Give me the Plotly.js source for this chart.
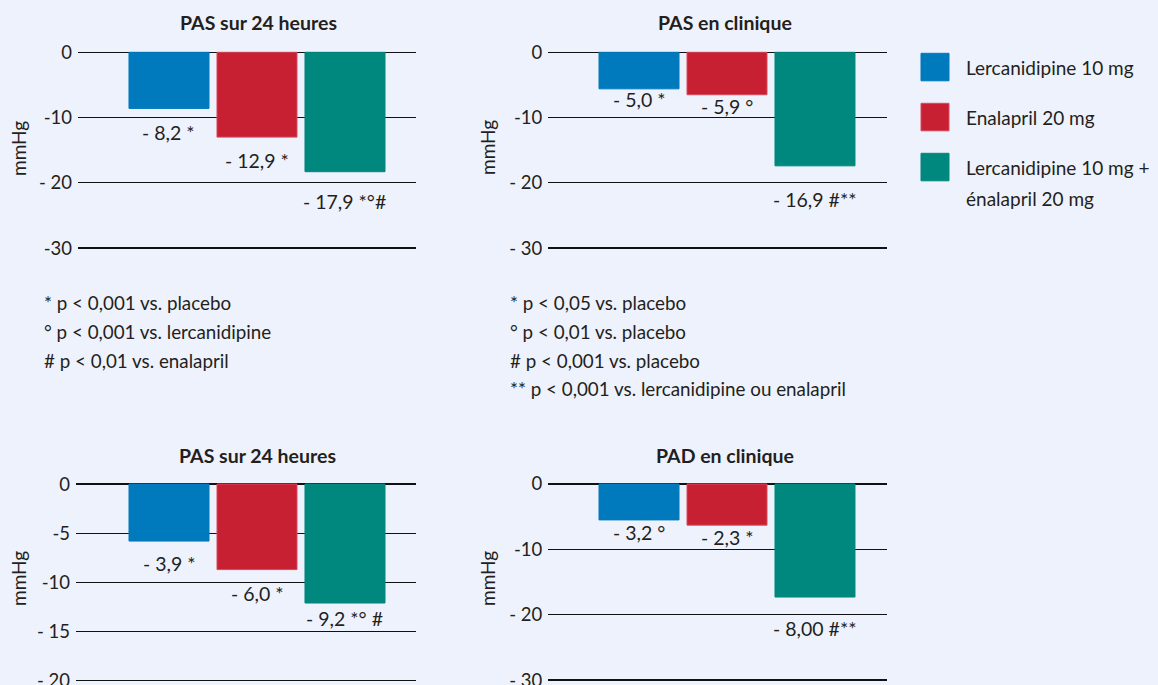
<!DOCTYPE html>
<html>
<head>
<meta charset="utf-8">
<script src="https://cdn.plot.ly/plotly-3.0.1.min.js"></script>
<style>html,body{margin:0;padding:0;background:#eef2fc;}#chart{width:1158px;height:685px;}</style>
</head>
<body>
<div id="chart"></div>
<script>
// ---- DATA ----
const categories = ['Lercanidipine 10 mg', 'Enalapril 20 mg', 'Lercanidipine 10 mg + énalapril 20 mg'];
const legendLines = [['Lercanidipine 10 mg'], ['Enalapril 20 mg'], ['Lercanidipine 10 mg +', 'énalapril 20 mg']];
const panelTitles = ['PAS sur 24 heures', 'PAS en clinique', 'PAS sur 24 heures', 'PAD en clinique'];
const yAxisLabel = 'mmHg';

// bar heights as drawn in the picture (mmHg)
const pas24hBars = [-8.6, -13.0, -18.3];
const pasCliniqueBars = [-5.6, -6.5, -17.4];
const pas24hBarsB = [-5.8, -8.7, -12.1];
const padCliniqueBars = [-5.5, -6.3, -17.3];

// printed value labels
const pas24hLabels = ['- 8,2 *', '- 12,9 *', '- 17,9 *°#'];
const pasCliniqueLabels = ['- 5,0 *', '- 5,9 °', '- 16,9 #**'];
const pas24hLabelsB = ['- 3,9 *', '- 6,0 *', '- 9,2 *° #'];
const padCliniqueLabels = ['- 3,2 °', '- 2,3 *', '- 8,00 #**'];

// tick values / labels
const tickVals30 = [0, -10, -20, -30];
const tickText30a = ['0', '-10', '- 20', '-30'];
const tickText30b = ['0', '-10', '- 20', '- 30'];
const tickVals20 = [0, -5, -10, -15, -20];
const tickText20 = ['0', '-5', '-10', '- 15', '- 20'];

// footnotes
const notesLeft = ['* p < 0,001 vs. placebo', '° p < 0,001 vs. lercanidipine', '# p < 0,01 vs. enalapril'];
const notesRight = ['* p < 0,05 vs. placebo', '° p < 0,01 vs. placebo', '# p < 0,001 vs. placebo', '** p < 0,001 vs. lercanidipine ou enalapril'];

// ---- STYLE / LAYOUT ----
const W = 1158, H = 685;
const colors = ['#0079bd', '#c82033', '#00877e'];
const lineColors = ['#0079bd', '#d8485a', '#00877e'];
const bg = '#eef2fc';
const ink = '#231f20';
const FONT = 'Lato, "Open Sans", sans-serif';
const px = x => x / W;
const py = y => 1 - y / H;

const panels = [
  {bars: pas24hBars, labels: pas24hLabels, tv: tickVals30, tt: tickText30a, xpx: [78, 416], xr: [-1.034, 2.807], yr: [-30.5, 0.5], ypx: [49.04, 251.3], shifts: [-24.3, -23, -29.7], title: [258.5, 23], ytitle: [18, 149]},
  {bars: pasCliniqueBars, labels: pasCliniqueLabels, tv: tickVals30, tt: tickText30b, xpx: [548.3, 886.7], xr: [-1.031, 2.815], yr: [-30.5, 0.5], ypx: [49.04, 251.3], shifts: [-11, -11.3, -33.6], title: [724.5, 23], ytitle: [487, 148]},
  {bars: pas24hBarsB, labels: pas24hLabelsB, tv: tickVals20, tt: tickText20, xpx: [76, 416], xr: [-1.057, 2.807], yr: [-20.2, 0.5], ypx: [479.1, 682.7], shifts: [-22.6, -24, -15.6], title: [257, 455], ytitle: [18, 579]},
  {bars: padCliniqueBars, labels: padCliniqueLabels, tv: tickVals30, tt: tickText30b, xpx: [548.3, 886.7], xr: [-1.031, 2.815], yr: [-30.3, 0.5], ypx: [480.7, 682], shifts: [-13, -12.3, -31.6], title: [724.5, 455], ytitle: [487, 579]}
];

const traces = [];
const layout = {
  width: W, height: H,
  margin: {l: 0, r: 0, t: 0, b: 0},
  paper_bgcolor: bg, plot_bgcolor: bg,
  showlegend: false,
  bargap: 0.0909,
  font: {family: FONT, color: ink, size: 18},
  annotations: [], shapes: []
};

panels.forEach((p, i) => {
  const n = i === 0 ? '' : String(i + 1);
  traces.push({
    type: 'bar', x: categories, y: p.bars,
    xaxis: 'x' + n, yaxis: 'y' + n,
    marker: {color: colors, line: {color: lineColors, width: 1}},
    hoverinfo: 'x+y'
  });
  layout['xaxis' + n] = {
    domain: [px(p.xpx[0]), px(p.xpx[1])], anchor: 'y' + n,
    type: 'category', categoryarray: categories, range: p.xr,
    showticklabels: false, showgrid: false, zeroline: false, showline: false, ticks: ''
  };
  layout['yaxis' + n] = {
    domain: [py(p.ypx[1]), py(p.ypx[0])], anchor: 'x' + n,
    range: p.yr, tickmode: 'array', tickvals: p.tv, ticktext: p.tt,
    showgrid: true, gridcolor: '#111', gridwidth: 1.2, zeroline: false, showline: false,
    ticks: '', ticklabelstandoff: 5, ticklabeloverflow: 'allow',
    tickfont: {family: FONT, size: 18.5, color: ink}
  };
  // panel title
  layout.annotations.push({
    xref: 'paper', yref: 'paper', x: px(p.title[0]), y: py(p.title[1]),
    xanchor: 'center', yanchor: 'middle', showarrow: false,
    text: '<b>' + panelTitles[i] + '</b>', font: {family: FONT, size: 19.5, color: ink}
  });
  // y axis label
  layout.annotations.push({
    xref: 'paper', yref: 'paper', x: px(p.ytitle[0]), y: py(p.ytitle[1]),
    xanchor: 'center', yanchor: 'middle', showarrow: false, textangle: -90,
    text: yAxisLabel, font: {family: FONT, size: 19, color: ink}
  });
  // value labels
  p.labels.forEach((t, k) => {
    layout.annotations.push({
      xref: 'x' + n, yref: 'y' + n, x: categories[k], y: p.bars[k],
      xanchor: 'center', yanchor: 'middle', yshift: p.shifts[k], showarrow: false,
      text: t, font: {family: FONT, size: 19.5, color: ink}
    });
  });
});

// legend
const legTop = [53.3, 103.3, 153.3];
legendLines.forEach((lines, k) => {
  layout.shapes.push({
    type: 'rect', xref: 'paper', yref: 'paper',
    x0: px(921), x1: px(949), y0: py(legTop[k] + 27.5), y1: py(legTop[k]),
    fillcolor: colors[k], line: {color: lineColors[k], width: 1}
  });
  lines.forEach((ln, j) => {
    layout.annotations.push({
      xref: 'paper', yref: 'paper', x: px(964), y: py(legTop[k] + 14.5 + j * 31),
      xanchor: 'left', yanchor: 'middle', showarrow: false,
      text: ln, font: {family: FONT, size: 19, color: ink}
    });
  });
});

// footnotes
notesLeft.forEach((t, j) => {
  layout.annotations.push({
    xref: 'paper', yref: 'paper', x: px(42), y: py(303 + j * 28.5),
    xanchor: 'left', yanchor: 'middle', showarrow: false,
    text: t, font: {family: FONT, size: 18.8, color: ink}
  });
});
notesRight.forEach((t, j) => {
  layout.annotations.push({
    xref: 'paper', yref: 'paper', x: px(508), y: py(303 + j * 28.5),
    xanchor: 'left', yanchor: 'middle', showarrow: false,
    text: t, font: {family: FONT, size: 18.8, color: ink}
  });
});

Plotly.newPlot('chart', traces, layout, {staticPlot: true, displayModeBar: false});
</script>
</body>
</html>
